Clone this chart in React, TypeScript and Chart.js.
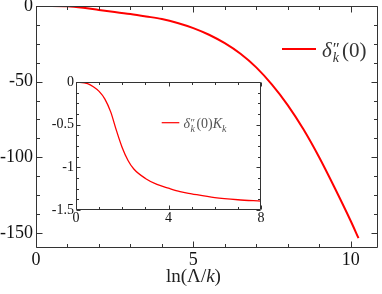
import React, { useEffect, useRef } from 'react';
import { Chart, registerables } from 'chart.js';
Chart.register(...registerables);

// ---- data ----
const mainX = [0, 0.5, 1, 1.5, 2, 2.5, 3, 3.5, 4, 4.5, 5, 5.5, 6, 6.5, 7, 7.5, 8, 8.5, 9, 9.5, 10, 10.25];
const mainY = [0, 0, -0.2, -1.2, -2.6, -3.9, -5.3, -6.9, -8.6, -11.2, -14.6, -19.0, -24.6, -31.6, -40.6, -52.0, -65.5, -81.5, -100, -120.5, -142, -153.5];
const insetX = [0, 0.5, 0.75, 1, 1.25, 1.5, 1.75, 2, 2.25, 2.5, 3, 3.5, 4, 4.5, 5, 6, 7, 8];
const insetY = [0, -0.02, -0.055, -0.11, -0.2, -0.35, -0.57, -0.77, -0.92, -1.02, -1.13, -1.2, -1.245, -1.285, -1.31, -1.355, -1.38, -1.395];
const mainXTicks = [0, 5, 10];
const mainYTicks = [0, -50, -100, -150];
const insetXTicks = [0, 4, 8];
const insetYTicks = [0, -0.5, -1, -1.5];

const SERIF = '"Liberation Serif", "DejaVu Serif", serif';
const RED = '#ff0000';
const FRAME = '#333333';

type Run = { t: string; size: number; italic?: boolean; dy?: number; dx?: number; advance?: boolean };

function drawRuns(ctx: CanvasRenderingContext2D, x: number, base: number, runs: Run[], color: string) {
  ctx.save();
  ctx.fillStyle = color;
  ctx.textBaseline = 'alphabetic';
  ctx.textAlign = 'left';
  let cx = x;
  for (const r of runs) {
    ctx.font = `${r.italic ? 'italic ' : ''}${r.size}px ${SERIF}`;
    cx += r.dx || 0;
    ctx.fillText(r.t, cx, base + (r.dy || 0));
    if (r.advance !== false) cx += ctx.measureText(r.t).width;
  }
  ctx.restore();
}

function framePlugin(cfg: {
  xMinor: number; xMajor: number; yMinor: number; yMajor: number; majorLen: number; minorLen: number;
  extra?: (chart: any) => void;
}) {
  return {
    id: 'frameTicks',
    beforeDatasetsDraw(chart: any) {
      const { ctx, chartArea: a } = chart;
      ctx.save();
      ctx.fillStyle = '#ffffff';
      ctx.fillRect(a.left, a.top, a.right - a.left, a.bottom - a.top);
      ctx.restore();
    },
    afterDraw(chart: any) {
      const { ctx, chartArea: a, scales } = chart;
      const xs = scales.x, ys = scales.y;
      const L = Math.round(a.left) + 0.5, R = Math.round(a.right) - 0.5;
      const T = Math.round(a.top) + 0.5, B = Math.round(a.bottom) - 0.5;
      ctx.save();
      ctx.strokeStyle = FRAME;
      ctx.lineWidth = 1;
      ctx.beginPath();
      ctx.rect(L, T, R - L, B - T);
      const isMaj = (v: number, m: number) => Math.abs(v / m - Math.round(v / m)) < 1e-6;
      for (let i = 0; ; i++) {
        const v = xs.min + i * cfg.xMinor;
        if (v > xs.max + 1e-9) break;
        const p = Math.round(xs.getPixelForValue(v)) + 0.5;
        const len = isMaj(v, cfg.xMajor) ? cfg.majorLen : cfg.minorLen;
        ctx.moveTo(p, B); ctx.lineTo(p, B - len);
        ctx.moveTo(p, T); ctx.lineTo(p, T + len);
      }
      for (let i = 0; ; i++) {
        const v = ys.max - i * cfg.yMinor;
        if (v < ys.min - 1e-9) break;
        const p = Math.round(ys.getPixelForValue(v)) + 0.5;
        const len = isMaj(v, cfg.yMajor) ? cfg.majorLen : cfg.minorLen;
        ctx.moveTo(L, p); ctx.lineTo(L + len, p);
        ctx.moveTo(R, p); ctx.lineTo(R - len, p);
      }
      ctx.stroke();
      ctx.restore();
      if (cfg.extra) cfg.extra(chart);
    },
  };
}

function fixTicks(values: number[]) {
  return (scale: any) => {
    scale.ticks = values.map((v) => ({ value: v }));
  };
}

export default function App() {
  const mainRef = useRef<HTMLCanvasElement>(null);
  const insetRef = useRef<HTMLCanvasElement>(null);

  useEffect(() => {
    const mainChart = new Chart(mainRef.current!, {
      type: 'line',
      data: {
        datasets: [{
          data: mainX.map((x, i) => ({ x, y: mainY[i] })),
          borderColor: RED,
          borderWidth: 2,
          pointRadius: 0,
          cubicInterpolationMode: 'monotone',
          fill: false,
        }],
      },
      options: {
        responsive: false,
        animation: false,
        events: [],
        layout: { padding: { left: 0, top: 6, right: 4, bottom: 0 } },
        plugins: { legend: { display: false }, tooltip: { enabled: false } },
        scales: {
          x: {
            type: 'linear', min: 0, max: 10.87,
            grid: { display: false, drawTicks: false },
            border: { display: false },
            afterBuildTicks: fixTicks(mainXTicks),
            afterFit: (s: any) => { s.height = 46; s.paddingLeft = 0; s.paddingRight = 0; },
            ticks: { padding: 1, color: '#111', font: { family: SERIF, size: 18 }, maxRotation: 0, autoSkip: false, callback: (v: any) => String(v) },
          },
          y: {
            type: 'linear', min: -160, max: 0,
            grid: { display: false, drawTicks: false },
            border: { display: false },
            afterBuildTicks: fixTicks(mainYTicks),
            afterFit: (s: any) => { s.width = 36; s.paddingTop = 0; s.paddingBottom = 0; },
            ticks: { padding: 3, color: '#111', font: { family: SERIF, size: 18 }, autoSkip: false, callback: (v: any) => String(v) },
          },
        },
      },
      plugins: [framePlugin({
        xMinor: 1, xMajor: 5, yMinor: 12.5, yMajor: 50, majorLen: 6, minorLen: 3.5,
        extra: (chart: any) => {
          const ctx = chart.ctx as CanvasRenderingContext2D;
          // axis title
          drawRuns(ctx, 166, 282, [
            { t: 'ln(Λ/', size: 19 },
            { t: 'k', size: 19, italic: true },
            { t: ')', size: 19 },
          ], '#222');
          // legend
          ctx.save();
          ctx.strokeStyle = RED; ctx.lineWidth = 2;
          ctx.beginPath(); ctx.moveTo(282, 49); ctx.lineTo(316, 49); ctx.stroke();
          ctx.restore();
          drawRuns(ctx, 322, 57, [
            { t: 'δ', size: 21, italic: true },
            { t: '″', size: 17, dx: 1, dy: -3, advance: false },
            { t: 'k', size: 14, italic: true, dy: 5 },
            { t: '(0)', size: 21, dx: 3 },
          ], '#333');
        },
      })],
    } as any);

    const insetChart = new Chart(insetRef.current!, {
      type: 'line',
      data: {
        datasets: [{
          data: insetX.map((x, i) => ({ x, y: insetY[i] })),
          borderColor: RED,
          borderWidth: 1.3,
          pointRadius: 0,
          cubicInterpolationMode: 'monotone',
          fill: false,
        }],
      },
      options: {
        responsive: false,
        animation: false,
        events: [],
        layout: { padding: { left: 0, top: 10, right: 9, bottom: 0 } },
        plugins: { legend: { display: false }, tooltip: { enabled: false } },
        scales: {
          x: {
            type: 'linear', min: 0, max: 8,
            grid: { display: false, drawTicks: false },
            border: { display: false },
            afterBuildTicks: fixTicks(insetXTicks),
            afterFit: (s: any) => { s.height = 22; s.paddingLeft = 0; s.paddingRight = 0; },
            ticks: { padding: 0, color: '#111', font: { family: SERIF, size: 14 }, maxRotation: 0, autoSkip: false, callback: (v: any) => String(v) },
          },
          y: {
            type: 'linear', min: -1.5, max: 0,
            grid: { display: false, drawTicks: false },
            border: { display: false },
            afterBuildTicks: fixTicks(insetYTicks),
            afterFit: (s: any) => { s.width = 36; s.paddingTop = 0; s.paddingBottom = 0; },
            ticks: { padding: 2, color: '#111', font: { family: SERIF, size: 14 }, autoSkip: false, callback: (v: any) => String(v) },
          },
        },
      },
      plugins: [framePlugin({
        xMinor: 1, xMajor: 4, yMinor: 0.125, yMajor: 0.5, majorLen: 4, minorLen: 2.5,
        extra: (chart: any) => {
          const ctx = chart.ctx as CanvasRenderingContext2D;
          // legend (inset canvas offset: left 40, top 72)
          ctx.save();
          ctx.strokeStyle = RED; ctx.lineWidth = 1.2;
          ctx.beginPath(); ctx.moveTo(161.7 - 40, 122.7 - 72); ctx.lineTo(179.3 - 40, 122.7 - 72); ctx.stroke();
          ctx.restore();
          drawRuns(ctx, 183.5 - 40, 128 - 72, [
            { t: 'δ', size: 14, italic: true },
            { t: '″', size: 11, dx: 0.5, dy: -2, advance: false },
            { t: 'k', size: 10, italic: true, dy: 3.5 },
            { t: '(0)', size: 14, dx: 1.5 },
            { t: 'K', size: 14, italic: true },
            { t: 'k', size: 10, italic: true, dy: 3.5 },
          ], '#555');
        },
      })],
    } as any);

    return () => {
      mainChart.destroy();
      insetChart.destroy();
    };
  }, []);

  return (
    <div style={{ position: 'absolute', left: 0, top: 0, width: 382, height: 294, background: '#fff' }}>
      <canvas ref={mainRef} width={382} height={294} style={{ position: 'absolute', left: 0, top: 0, width: 382, height: 294 }} />
      <canvas ref={insetRef} width={230} height={160} style={{ position: 'absolute', left: 40, top: 72, width: 230, height: 160 }} />
    </div>
  );
}
